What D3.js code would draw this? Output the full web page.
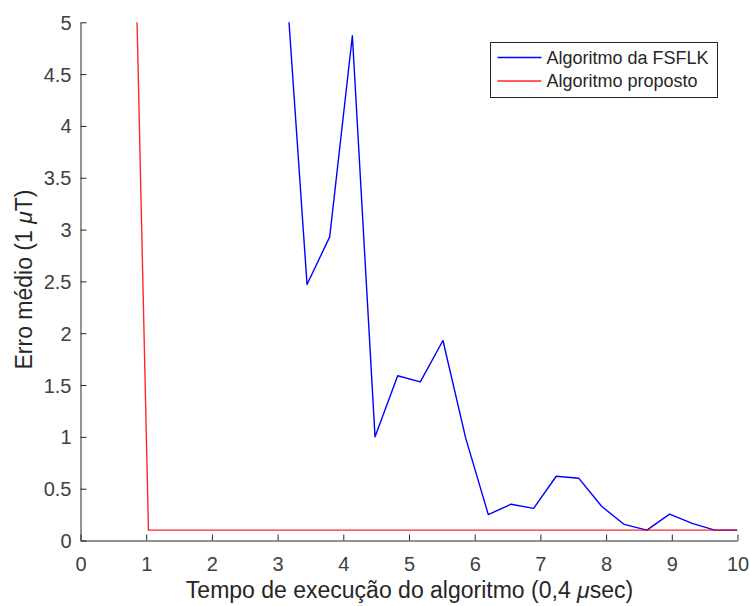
<!DOCTYPE html>
<html>
<head>
<meta charset="utf-8">
<script src="https://cdn.jsdelivr.net/npm/d3@7"></script>
<style>
  html, body { margin: 0; padding: 0; background: #fff; }
  svg { display: block; font-family: "Liberation Sans", Arial, Helvetica, sans-serif; }
</style>
</head>
<body>
<svg id="chart" width="750" height="606"></svg>
<script>
// Execution time (units of 0.4 µs) and mean error (µT) for each algorithm
const fsflkTime = [3.103, 3.448, 3.793, 4.138, 4.483, 4.828, 5.172, 5.517, 5.862, 6.207, 6.552,
                   6.897, 7.241, 7.586, 7.931, 8.276, 8.621, 8.966, 9.310, 9.655, 10.0];
const fsflkError = [5.65, 2.47, 2.93, 4.87, 1.00, 1.59, 1.53, 1.93, 0.99, 0.25, 0.35,
                    0.31, 0.62, 0.60, 0.33, 0.155, 0.10, 0.255, 0.165, 0.10, 0.10];

const proposedTime = [0.690, 1.034, 1.379, 1.724, 2.069, 2.414, 2.759, 3.103, 3.448, 3.793, 4.138,
                      4.483, 4.828, 5.172, 5.517, 5.862, 6.207, 6.552, 6.897, 7.241, 7.586,
                      7.931, 8.276, 8.621, 8.966, 9.310, 9.655, 10.0];
const proposedError = [9.86, 0.10, 0.10, 0.10, 0.10, 0.10, 0.10, 0.10, 0.10, 0.10, 0.10,
                       0.10, 0.10, 0.10, 0.10, 0.10, 0.10, 0.10, 0.10, 0.10, 0.10,
                       0.10, 0.10, 0.10, 0.10, 0.10, 0.10, 0.10];

const xTicks = [0, 1, 2, 3, 4, 5, 6, 7, 8, 9, 10];
const yTicks = [0, 0.5, 1, 1.5, 2, 2.5, 3, 3.5, 4, 4.5, 5];
const seriesNames = ["Algoritmo da FSFLK", "Algoritmo proposto"];
const seriesColors = ["#0000ff", "#ff0000"];

const svg = d3.select("#chart");
const axisColor = "#262626";

const x = d3.scaleLinear().domain([0, 10]).range([80.5, 737.5]);
const y = d3.scaleLinear().domain([0, 5]).range([540.5, 22.3]);

// clip lines to the axes box
svg.append("defs").append("clipPath").attr("id", "plot-clip")
  .append("rect")
  .attr("x", x(0)).attr("y", y(5))
  .attr("width", x(10) - x(0)).attr("height", y(0) - y(5));

const fmt = d => String(d);

const xAxis = svg.append("g")
  .attr("transform", `translate(0,${y(0)})`)
  .call(d3.axisBottom(x).tickValues(xTicks).tickFormat(fmt).tickSizeInner(-6).tickSizeOuter(0).tickPadding(16));
const yAxis = svg.append("g")
  .attr("transform", `translate(${x(0)},0)`)
  .call(d3.axisLeft(y).tickValues(yTicks).tickFormat(fmt).tickSizeInner(-6).tickSizeOuter(0).tickPadding(9));

[xAxis, yAxis].forEach(g => {
  g.selectAll("path, line").attr("stroke", axisColor).attr("stroke-width", 1);
  g.selectAll("text").attr("fill", "#404040").style("font-size", "20px")
    .style("font-family", '"Liberation Sans", Arial, sans-serif');
});
xAxis.selectAll("text").attr("dy", "0.71em");
yAxis.selectAll("text").attr("dy", "0.35em");

const line = (xs, ys) => d3.line().x((d, i) => x(xs[i])).y(d => y(d))(ys);

const plot = svg.append("g").attr("clip-path", "url(#plot-clip)");
plot.append("path")
  .attr("d", line(fsflkTime, fsflkError))
  .attr("fill", "none").attr("stroke", seriesColors[0]).attr("stroke-width", 1.4)
  .attr("stroke-linejoin", "round");
plot.append("path")
  .attr("d", line(proposedTime, proposedError))
  .attr("fill", "none").attr("stroke", seriesColors[1]).attr("stroke-width", 1.4)
  .attr("stroke-opacity", 0.85)
  .attr("stroke-linejoin", "round");

// axis titles
const xLabel = svg.append("text")
  .attr("x", (x(0) + x(10)) / 2 + 0.5).attr("y", 597.5)
  .attr("text-anchor", "middle").attr("fill", "#262626").style("font-size", "23px");
xLabel.append("tspan").text("Tempo de execução do algoritmo (0,4 ");
xLabel.append("tspan").attr("font-style", "italic").text("μ");
xLabel.append("tspan").text("sec)");

const yLabel = svg.append("text")
  .attr("transform", "translate(32,279.5) rotate(-90)")
  .attr("text-anchor", "middle").attr("fill", "#262626").style("font-size", "23px");
yLabel.append("tspan").text("Erro médio (1 ");
yLabel.append("tspan").attr("font-style", "italic").text("μ");
yLabel.append("tspan").text("T)");

// legend
const legend = svg.append("g");
legend.append("rect")
  .attr("x", 490.5).attr("y", 42.5).attr("width", 227).attr("height", 55)
  .attr("fill", "#fff").attr("stroke", axisColor).attr("stroke-width", 1);
seriesNames.forEach((name, i) => {
  const ly = 57.5 + i * 23.5;
  legend.append("line")
    .attr("x1", 497.5).attr("x2", 541.5).attr("y1", ly).attr("y2", ly)
    .attr("stroke", seriesColors[i]).attr("stroke-width", 1.4)
    .attr("stroke-opacity", i === 1 ? 0.85 : 1);
  legend.append("text")
    .attr("x", 546.5).attr("y", ly).attr("dy", "0.35em")
    .attr("fill", "#262626").style("font-size", "18px").text(name);
});
</script>
</body>
</html>
